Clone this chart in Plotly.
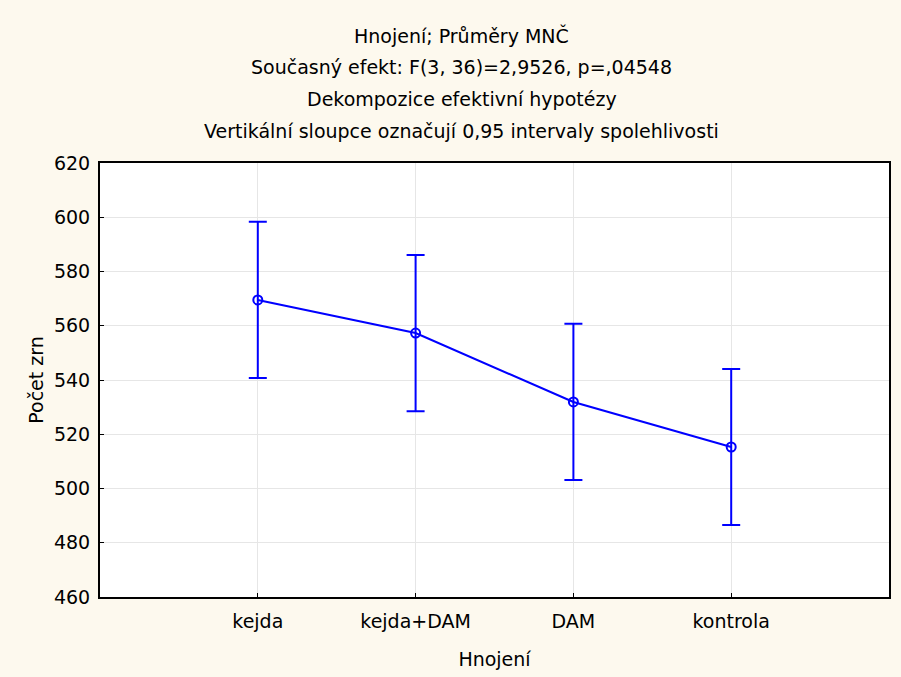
import plotly.graph_objects as go

categories = ["kejda", "kejda+DAM", "DAM", "kontrola"]
x_pos = [1, 2, 3, 4]
means = [569.5, 557.3, 531.9, 515.3]
ci_half = [28.8, 28.8, 28.8, 28.8]
y_ticks = [460, 480, 500, 520, 540, 560, 580, 600, 620]

title_lines = [
    "Hnojení; Průměry MNČ",
    "Současný efekt: F(3, 36)=2,9526, p=,04548",
    "Dekompozice efektivní hypotézy",
    "Vertikální sloupce označují 0,95 intervaly spolehlivosti",
]

FONT = "DejaVu Sans, Liberation Sans, Arial, sans-serif"
BLUE = "#0000FF"
BG = "#FDF9EE"
FS = 19

fig = go.Figure()
fig.add_trace(go.Scatter(
    x=x_pos, y=means, mode="lines+markers",
    line=dict(color=BLUE, width=2),
    marker=dict(symbol="circle-open", size=9, color=BLUE, line=dict(width=2, color=BLUE)),
    error_y=dict(type="data", array=ci_half, visible=True, color=BLUE, thickness=2, width=9),
    showlegend=False, hoverinfo="y",
))

for i, t in enumerate(title_lines):
    fig.add_annotation(text=t, xref="paper", yref="paper", x=0.5, y=1,
                       xshift=-33, yshift=163 - 35 - 32 * i,
                       xanchor="center", yanchor="middle",
                       showarrow=False, font=dict(family=FONT, size=FS, color="#000"))

fig.update_layout(
    width=901, height=677,
    paper_bgcolor=BG, plot_bgcolor="white",
    margin=dict(l=100, r=10, t=163, b=80),
    font=dict(family=FONT, size=FS, color="#000"),
    xaxis=dict(
        range=[0, 5], tickvals=x_pos, ticktext=categories,
        showgrid=True, gridcolor="#E6E6E6", gridwidth=1,
        showline=True, linecolor="black", linewidth=2, mirror=True,
        ticks="inside", ticklen=4, tickcolor="black", tickwidth=1,
        zeroline=False, ticklabelstandoff=6,
        title=dict(text="Hnojení", standoff=22, font=dict(size=FS)),
        tickfont=dict(size=FS),
    ),
    yaxis=dict(
        range=[460, 620], tickvals=y_ticks,
        showgrid=True, gridcolor="#E6E6E6", gridwidth=1,
        showline=True, linecolor="black", linewidth=2, mirror=True,
        ticks="inside", ticklen=4, tickcolor="black", tickwidth=1,
        zeroline=False, ticklabelstandoff=4,
        title=dict(text="Počet zrn", standoff=5, font=dict(size=FS)),
        tickfont=dict(size=FS),
    ),
)

fig.write_html("out.html")
